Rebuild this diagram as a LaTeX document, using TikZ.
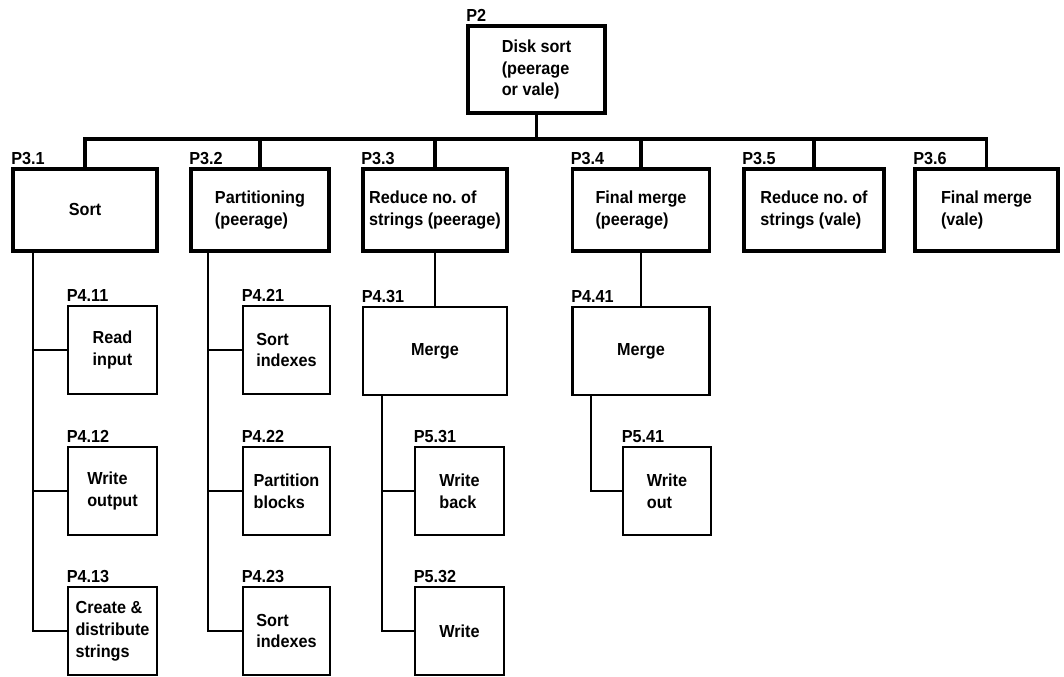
\documentclass[tikz,border=0pt]{standalone}
\usepackage{fontspec}
\setmainfont{Liberation Sans}[FakeStretch=0.93]
\begin{document}
\begin{tikzpicture}[line join=miter,
  every node/.style={font=\bfseries\fontsize{17.5}{22}\selectfont\frenchspacing},
  topbox/.style={draw,line width=3.6bp,align=left,inner sep=0pt,minimum height=82bp},
  subbox/.style={draw,line width=2.8bp,align=left,inner sep=0pt,minimum height=88bp},
  tag/.style={label={[anchor=south west,inner sep=0pt,yshift=2.5bp]north west:#1}},
  buslink/.style={line width=3.1bp},
  link/.style={line width=2.4bp}]
\useasboundingbox (0bp,0bp) rectangle (1064bp,677bp);
%%
\node (node_2) at (536.5bp,607.5bp) [topbox,minimum width=137bp,minimum height=87bp,tag=P2] {Disk sort\\(peerage\\or vale)};
  \node (node_31) at (85bp,467bp) [topbox,minimum width=144bp,tag=P3.1] {Sort};
  \node (node_32) at (260bp,467bp) [topbox,minimum width=138bp,tag=P3.2] {Partitioning\\(peerage)};
  \node (node_33) at (435bp,467bp) [topbox,minimum width=144bp,tag=P3.3] {Reduce no. of\\strings (peerage)};
  \node (node_34) at (641bp,467bp) [topbox,minimum width=137bp,tag=P3.4] {Final merge\\(peerage)};
  \node (node_35) at (814bp,467bp) [topbox,minimum width=140bp,tag=P3.5] {Reduce no. of\\strings (vale)};
  \node (node_36) at (986.5bp,467bp) [topbox,minimum width=143bp,tag=P3.6] {Final merge\\(vale)};
%
  \node (node_411) at (112.5bp,327bp) [subbox,minimum width=89bp,tag=P4.11] {Read\\input};
  \node (node_412) at (112.5bp,186bp) [subbox,minimum width=89bp,tag=P4.12] {Write\\output};
  \node (node_413) at (112.5bp,46bp) [subbox,minimum width=89bp,tag=P4.13] {Create \&\\distribute\\strings};
  \node (node_421) at (286.5bp,327bp) [subbox,minimum width=87bp,tag=P4.21] {Sort\\indexes};
  \node (node_422) at (286.5bp,186bp) [subbox,minimum width=87bp,tag=P4.22] {Partition\\blocks};
  \node (node_423) at (286.5bp,46bp) [subbox,minimum width=87bp,tag=P4.23] {Sort\\indexes};
  \node (node_431) at (435bp,326bp) [subbox,minimum width=144bp,tag=P4.31] {Merge};
  \node (node_531) at (459.5bp,186bp) [subbox,minimum width=89bp,tag=P5.31] {Write\\back};
  \node (node_532) at (459.5bp,46bp) [subbox,minimum width=89bp,tag=P5.32] {Write};
  \node (node_441) at (641bp,326bp) [subbox,minimum width=137bp,tag=P4.41] {Merge};
  \node (node_541) at (667bp,186bp) [subbox,minimum width=88bp,tag=P5.41] {Write\\out};
%
  \coordinate (bus) at (536.5bp,538bp);
  \coordinate (trunk_1) at (33bp,0bp);
  \coordinate (trunk_2) at (208bp,0bp);
  \coordinate (trunk_3) at (382bp,0bp);
  \coordinate (trunk_4) at (591bp,0bp);
%
  \draw [buslink] (node_2) -- (bus);
  \draw [buslink] (bus) -| (node_31);
  \draw [buslink] (bus) -| (node_32);
  \draw [buslink] (bus) -| (node_33);
  \draw [buslink] (bus) -| (node_34);
  \draw [buslink] (bus) -| (node_35);
  \draw [buslink] (bus) -| (node_36);
%
  \draw [link] (node_31.south -| trunk_1) |- (node_411);
  \draw [link] (node_31.south -| trunk_1) |- (node_412);
  \draw [link] (node_31.south -| trunk_1) |- (node_413);
  \draw [link] (node_32.south -| trunk_2) |- (node_421);
  \draw [link] (node_32.south -| trunk_2) |- (node_422);
  \draw [link] (node_32.south -| trunk_2) |- (node_423);
  \draw [link] (node_33) -- (node_431);
  \draw [link] (node_431.south -| trunk_3) |- (node_531);
  \draw [link] (node_431.south -| trunk_3) |- (node_532);
  \draw [link] (node_34) -- (node_441);
  \draw [link] (node_441.south -| trunk_4) |- (node_541);
%
\end{tikzpicture}
\end{document}
